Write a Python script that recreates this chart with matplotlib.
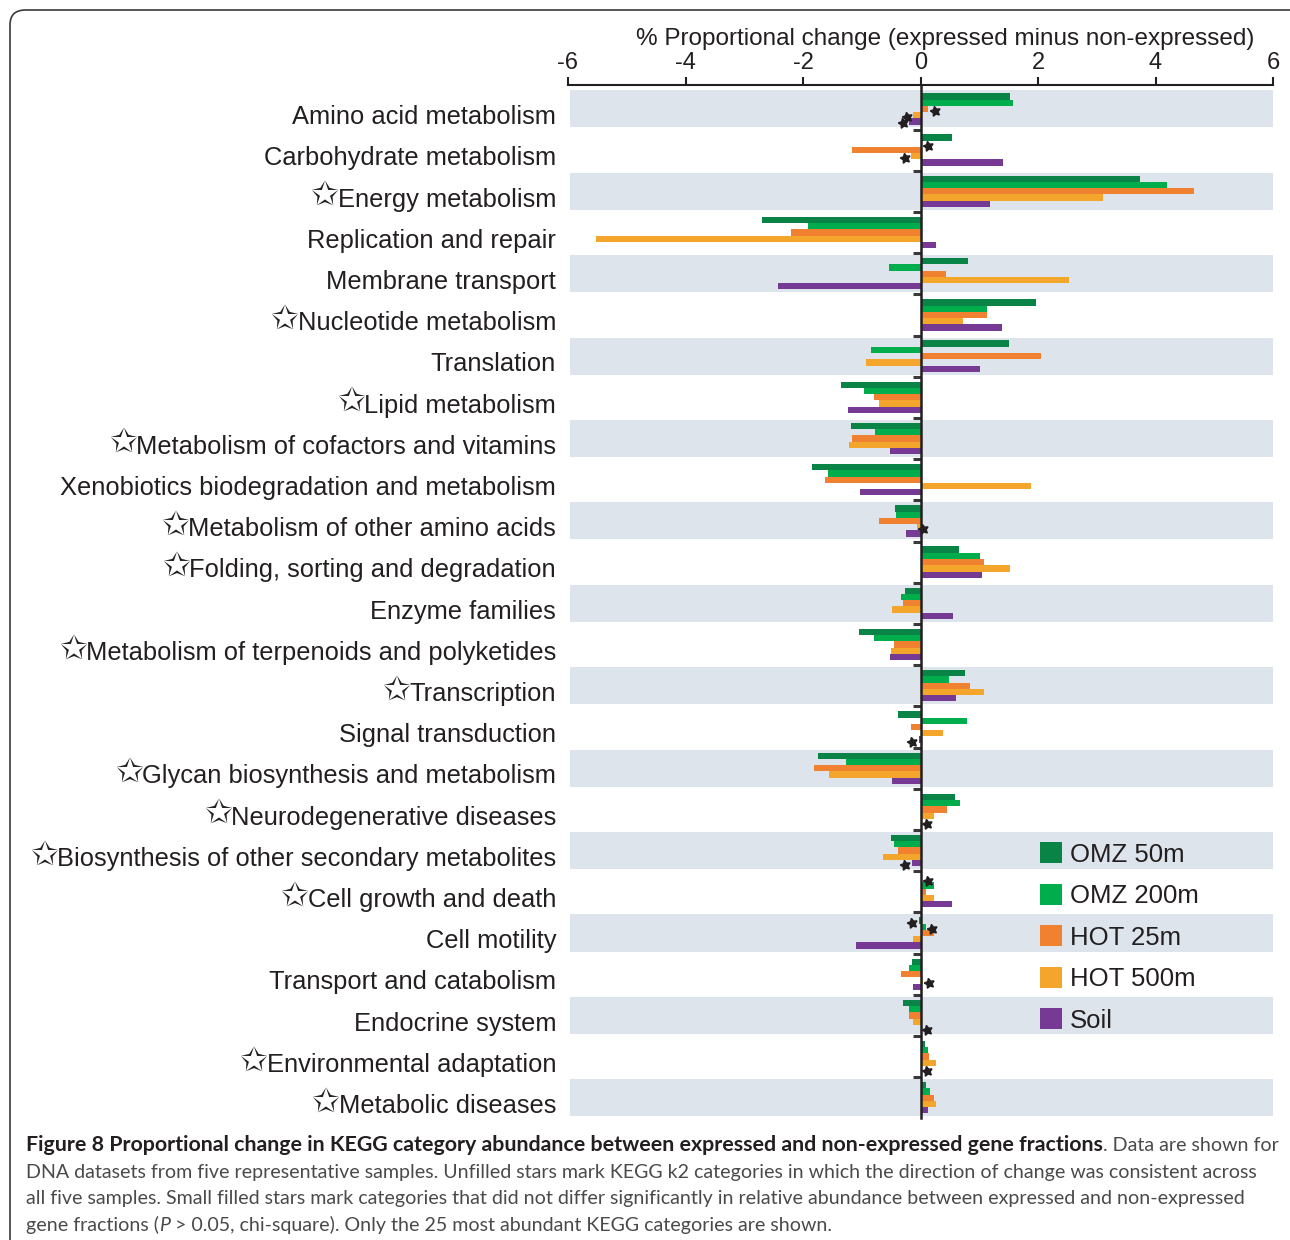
import matplotlib
matplotlib.use("Agg")
import matplotlib.pyplot as plt
import matplotlib.transforms as mtransforms
from matplotlib.patches import FancyBboxPatch
import numpy as np

categories = [
    "Amino acid metabolism",
    "Carbohydrate metabolism",
    "Energy metabolism",
    "Replication and repair",
    "Membrane transport",
    "Nucleotide metabolism",
    "Translation",
    "Lipid metabolism",
    "Metabolism of cofactors and vitamins",
    "Xenobiotics biodegradation and metabolism",
    "Metabolism of other amino acids",
    "Folding, sorting and degradation",
    "Enzyme families",
    "Metabolism of terpenoids and polyketides",
    "Transcription",
    "Signal transduction",
    "Glycan biosynthesis and metabolism",
    "Neurodegenerative diseases",
    "Biosynthesis of other secondary metabolites",
    "Cell growth and death",
    "Cell motility",
    "Transport and catabolism",
    "Endocrine system",
    "Environmental adaptation",
    "Metabolic diseases",
]
# unfilled star: direction of change consistent across all five samples
consistent = [0, 0, 1, 0, 0, 1, 0, 1, 1, 0, 1, 1, 0, 1, 1, 0, 1, 1, 1, 1, 0, 0, 0, 1, 1]

series_names = ["OMZ 50m", "OMZ 200m", "HOT 25m", "HOT 500m", "Soil"]
omz50 = [1.53, 0.53, 3.73, -2.69, 0.80, 1.96, 1.50, -1.36, -1.19, -1.84, -0.44, 0.65, -0.27,
         -1.05, 0.75, -0.39, -1.75, 0.58, -0.51, 0.02, -0.03, -0.15, -0.30, 0.07, 0.09]
omz200 = [1.57, 0.02, 4.20, -1.91, -0.54, 1.13, -0.85, -0.97, -0.78, -1.58, -0.42, 1.02, -0.34,
          -0.80, 0.48, 0.79, -1.26, 0.68, -0.45, 0.23, 0.09, -0.19, -0.19, 0.13, 0.16]
hot25 = [0.13, -1.17, 4.66, -2.21, 0.43, 1.14, 2.05, -0.80, -1.17, -1.62, -0.71, 1.08, -0.30,
         -0.45, 0.84, -0.16, -1.82, 0.45, -0.38, 0.10, 0.23, -0.34, -0.20, 0.14, 0.23]
hot500 = [-0.12, -0.16, 3.10, -5.52, 2.52, 0.73, -0.93, -0.71, -1.22, 1.88, -0.06, 1.53, -0.48,
          -0.51, 1.08, 0.38, -1.56, 0.23, -0.64, 0.23, -0.13, 0.04, -0.13, 0.27, 0.26]
soil = [-0.19, 1.41, 1.18, 0.26, -2.43, 1.38, 1.02, -1.24, -0.52, -1.03, -0.25, 1.04, 0.56,
        -0.52, 0.60, -0.03, -0.49, 0.0, -0.15, 0.53, -1.09, -0.13, 0.0, 0.0, 0.13]
series = [omz50, omz200, hot25, hot500, soil]

# small filled stars: (category, series, side of the bar)
not_significant = [(0, 2, 1), (0, 3, -1), (0, 4, -1), (1, 1, 1), (1, 3, -1), (10, 3, 1),
                   (15, 4, -1), (17, 4, 1), (18, 4, -1), (19, 0, 1), (20, 0, -1), (20, 1, 1),
                   (21, 3, 1), (22, 4, 1), (23, 4, 1)]

colors = ["#0a8446", "#00ad4d", "#ef8131", "#f4a52c", "#763a95"]
band = "#dde4ec"
ink = "#231f20"

plt.rcParams["font.family"] = ["Liberation Sans", "DejaVu Sans"]
plt.rcParams["axes.unicode_minus"] = False

W, H = 1290, 1240
fig = plt.figure(figsize=(W / 100, H / 100), dpi=100)
ax = fig.add_axes([568 / W, 1 - 1118 / H, 705 / W, (1118 - 85) / H])
renderer = fig.canvas.get_renderer()

y = np.arange(len(categories))
for i in y[::2]:
    ax.axhspan(i - 0.45, i + 0.45, xmin=0.003, xmax=1, color=band, lw=0, zorder=0)

h = 0.152
for j, (vals, c, name) in enumerate(zip(series, colors, series_names)):
    ax.barh(y + (j - 2) * h, vals, height=h, color=c, label=name, zorder=2)

sx = [series[s][c] + side * 0.11 for c, s, side in not_significant]
sy = [c + (s - 2) * h + 0.05 for c, s, side in not_significant]
ax.plot(sx, sy, ls="none", marker=(5, 1, 12), ms=7.5, color=ink, zorder=3)

ax.set_xlim(-6, 6)
ax.set_ylim(24.49, -0.58)

ax.spines["right"].set_visible(False)
ax.spines["bottom"].set_visible(False)
ax.spines["left"].set_position(("data", 0))
ax.spines["left"].set_linewidth(1.8)
ax.spines["left"].set_color(ink)
ax.spines["left"].set_zorder(4)
ax.spines["top"].set_linewidth(1.5)
ax.spines["top"].set_color(ink)

ax.xaxis.tick_top()
ax.set_xticks(range(-6, 7, 2))
ax.tick_params(axis="x", direction="out", length=6, width=1.5, color=ink,
               labelsize=17, pad=2, labelcolor=ink)
ax.set_yticks(y[:-1] + 0.5)
ax.tick_params(axis="y", direction="out", length=6, width=2.2, color="#3a3a3a",
               labelleft=False)

ax.xaxis.set_label_position("top")
ax.set_xlabel("% Proportional change (expressed minus non-expressed)",
              fontsize=17.5, color=ink)
ax.xaxis.set_label_coords((945 - 568) / 705, (1118 - 45) / (1118 - 85))

trans = mtransforms.blended_transform_factory(ax.transAxes, ax.transData)
for i, (cat, star) in enumerate(zip(categories, consistent)):
    t = ax.text(-0.017, i + 0.2, cat, transform=trans, ha="right", va="center",
                fontsize=18.4, color=ink)
    if star:
        x0 = t.get_window_extent(renderer).x0
        xs = ax.transAxes.inverted().transform((x0 + 1, 0))[0]
        ax.text(xs, i + 0.1, "\u2729", transform=trans, ha="right", va="center",
                fontsize=24, color=ink, family=["DejaVu Sans"])

ax.legend(loc="upper left", bbox_to_anchor=(0.655, 0.277), frameon=False,
          fontsize=18.5, handlelength=0.85, handleheight=0.9, handletextpad=0.3,
          labelspacing=0.66, borderaxespad=0, labelcolor=ink)

# rounded frame around figure + caption
frame = FancyBboxPatch((10 / W, -0.1), 1.2, 1 - 10 / H + 0.1,
                       boxstyle="round,pad=0,rounding_size=0.012",
                       transform=fig.transFigure, fill=False, ec="#3a3a3a", lw=1.2)
fig.add_artist(frame)

cap_font = ["Lato", "DejaVu Sans"]
bold_part = ("Figure 8 Proportional change in KEGG category abundance between expressed and "
             "non-expressed gene fractions")
cap_lines = [
    [(bold_part, "bold", "normal"),
     (". Data are shown for", "normal", "normal")],
    [("DNA datasets from five representative samples. Unfilled stars mark KEGG k2 categories "
      "in which the direction of change was consistent across", "normal", "normal")],
    [("all five samples. Small filled stars mark categories that did not differ significantly "
      "in relative abundance between expressed and non-expressed", "normal", "normal")],
    [("gene fractions (", "normal", "normal"), ("P", "normal", "italic"),
     (" > 0.05, chi-square). Only the 25 most abundant KEGG categories are shown.",
      "normal", "normal")],
]
baselines = [1151, 1178, 1204, 1231]

probe = fig.text(0, 0, cap_lines[1][0][0], fontsize=12, family=cap_font)
fs = 12 * 1227 / probe.get_window_extent(renderer).width
probe.remove()
probe = fig.text(0, 0, bold_part, fontsize=12, family=cap_font, weight="bold")
fs_bold = 12 * 1072 / probe.get_window_extent(renderer).width
probe.remove()

for segs, base in zip(cap_lines, baselines):
    x = 26
    for txt, weight, style in segs:
        t = fig.text(x / W, 1 - base / H, txt, family=cap_font,
                     fontsize=fs_bold if weight == "bold" else fs,
                     weight=weight, style=style, va="baseline", ha="left",
                     color=ink if weight == "bold" else "#4a4a4c")
        x = t.get_window_extent(renderer).x1

fig.savefig("out.png", dpi=100)
